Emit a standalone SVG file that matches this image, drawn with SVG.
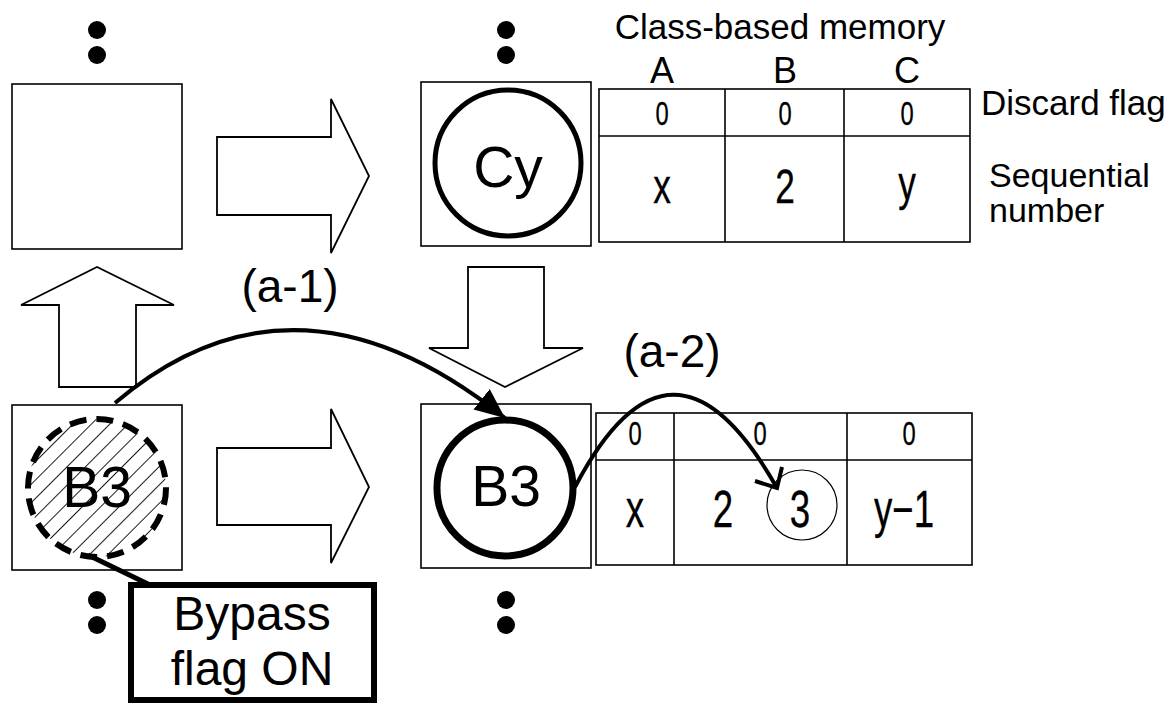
<svg xmlns="http://www.w3.org/2000/svg" width="1172" height="705" viewBox="0 0 1172 705">
<style>
.box{fill:#fff;stroke:#000;stroke-width:1.6}
.blk{fill:#fff;stroke:#000;stroke-width:1.8;stroke-linejoin:miter}
.grid{fill:none;stroke:#000;stroke-width:1.6}
.dot{fill:#000}
.t{font-family:"Liberation Sans",Arial,sans-serif;fill:#000}
.n{font-family:"Liberation Sans",Arial,sans-serif;fill:#000;stroke:#000;stroke-width:0.3;text-anchor:middle}
.c{text-anchor:middle}
.conn{fill:none;stroke:#000;stroke-width:4}
</style>
<defs>
<pattern id="hatch" patternUnits="userSpaceOnUse" width="13" height="13" patternTransform="rotate(45)">
<line x1="0" y1="0" x2="0" y2="13" stroke="#000" stroke-width="1.8"/>
</pattern>
<marker id="fillhead" markerUnits="userSpaceOnUse" markerWidth="34" markerHeight="30" refX="30" refY="13" orient="auto" viewBox="0 0 34 30">
<path d="M0,0 L30,13 L0,26 Z" fill="#000"/>
</marker>
</defs>

<!-- dots -->
<g id="dots-top-left"><circle class="dot" cx="97" cy="30" r="9"/><circle class="dot" cx="97" cy="55" r="9"/></g>
<g id="dots-top-mid"><circle class="dot" cx="506" cy="30" r="9"/><circle class="dot" cx="506" cy="55" r="9"/></g>
<g id="dots-bot-left"><circle class="dot" cx="97" cy="600" r="9"/><circle class="dot" cx="97" cy="625" r="9"/></g>
<g id="dots-bot-mid"><circle class="dot" cx="506" cy="600" r="9"/><circle class="dot" cx="506" cy="625" r="9"/></g>

<!-- block arrows -->
<g id="arrow-top-right"><polygon class="blk" points="217,137 331,137 331,99 369,176 331,253 331,215 217,215"/></g>
<g id="arrow-bot-right"><polygon class="blk" points="217,448 331,448 331,409 369,487 331,563 331,525 217,525"/></g>
<g id="arrow-up"><polygon class="blk" points="59,387 59,305 21,305 97,267 174,305 136,305 136,387"/></g>
<g id="arrow-down"><polygon class="blk" points="468,267 544,267 544,348 583,348 505,387 429,348 468,348"/></g>

<!-- nodes -->
<g id="node-empty"><rect class="box" x="12" y="84" width="170" height="165"/></g>

<g id="node-cy">
<rect class="box" x="421" y="82" width="170" height="164"/>
<circle cx="508" cy="163" r="73" fill="none" stroke="#000" stroke-width="5"/>
<text class="t c" x="508" y="187" font-size="57">Cy</text>
</g>

<g id="node-b3-bypassed">
<rect class="box" x="12" y="405" width="170" height="165"/>
<circle cx="97" cy="488" r="69" fill="url(#hatch)" stroke="#000" stroke-width="6" stroke-dasharray="17 10"/>
<text class="t c" x="97" y="507" font-size="57">B3</text>
</g>

<g id="node-b3">
<rect class="box" x="421" y="404" width="170" height="164"/>
<circle cx="505" cy="488" r="68" fill="none" stroke="#000" stroke-width="7"/>
<text class="t c" x="506" y="506" font-size="57">B3</text>
</g>

<g id="memory-top">
<text class="t c" x="780" y="39" font-size="35">Class-based memory</text>
<text class="t c" x="662" y="83" font-size="36">A</text>
<text class="t c" x="785" y="83" font-size="36">B</text>
<text class="t c" x="907" y="83" font-size="36">C</text>
<rect class="grid" x="599" y="89" width="371" height="153"/>
<line class="grid" x1="599" y1="136" x2="970" y2="136"/>
<line class="grid" x1="725" y1="89" x2="725" y2="242"/>
<line class="grid" x1="844" y1="89" x2="844" y2="242"/>
<text class="n" transform="translate(662,125) scale(0.72,1)" font-size="33">0</text>
<text class="n" transform="translate(785,125) scale(0.72,1)" font-size="33">0</text>
<text class="n" transform="translate(907,125) scale(0.72,1)" font-size="33">0</text>
<text class="n" transform="translate(662,203) scale(0.72,1)" font-size="49">x</text>
<text class="n" transform="translate(785,203) scale(0.72,1)" font-size="49">2</text>
<text class="n" transform="translate(907,200) scale(0.72,1)" font-size="49">y</text>
<text class="t" x="981" y="115" font-size="35">Discard flag</text>
<text class="t" x="989" y="187" font-size="34">Sequential</text>
<text class="t" x="989" y="222" font-size="34">number</text>
</g>

<g id="memory-bottom">
<rect class="grid" x="596" y="413" width="376" height="152"/>
<line class="grid" x1="596" y1="460" x2="972" y2="460"/>
<line class="grid" x1="674" y1="413" x2="674" y2="565"/>
<line class="grid" x1="847" y1="413" x2="847" y2="565"/>
<text class="n" transform="translate(635,445) scale(0.72,1)" font-size="33">0</text>
<text class="n" transform="translate(760,445) scale(0.72,1)" font-size="33">0</text>
<text class="n" transform="translate(909,445) scale(0.72,1)" font-size="33">0</text>
<text class="n" transform="translate(635,527) scale(0.72,1)" font-size="51">x</text>
<text class="n" transform="translate(723,527) scale(0.72,1)" font-size="51">2</text>
<text class="n" transform="translate(800,527) scale(0.72,1)" font-size="51">3</text>
<circle cx="802" cy="505" r="35" fill="none" stroke="#000" stroke-width="1.2"/>
<text class="n" transform="translate(904,527) scale(0.72,1)" font-size="51">y−1</text>
</g>

<g id="bypass-callout">
<line x1="88" y1="555" x2="148" y2="584" stroke="#000" stroke-width="5"/>
<rect x="131" y="585" width="243" height="115" fill="#fff" stroke="#000" stroke-width="6"/>
<text class="t c" x="252" y="630" font-size="48">Bypass</text>
<text class="t c" x="252" y="685" font-size="48">flag ON</text>
</g>

<!-- connectors -->
<g id="connectors">
<path class="conn" d="M115,403 Q295,250 505,418" marker-end="url(#fillhead)"/>
<text class="t c" x="290" y="302" font-size="46">(a-1)</text>
<path class="conn" d="M575,487 Q672,302 777,488"/>
<polyline class="conn" points="755,481 777,488 782,467" stroke-width="3.5"/>
<text class="t c" x="672" y="367" font-size="46">(a-2)</text>
</g>
</svg>
